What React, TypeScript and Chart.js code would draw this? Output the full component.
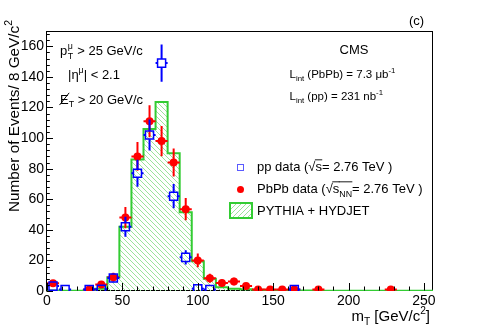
import { useEffect, useRef } from 'react';
import { Chart, registerables } from 'chart.js';
Chart.register(...registerables);

// ---- data ----
const binEdges = [0, 8, 16, 24, 32, 40, 48, 56, 64, 72, 80, 88, 96, 104, 112, 120, 128, 136, 144, 152, 160, 168, 176, 184, 192, 200, 208, 216, 224, 232, 240, 248, 256];
const mcValues = [0.4, 0.2, 0.2, 0.3, 1.5, 9, 42, 86, 106, 123.5, 90, 51.5, 19.5, 8, 2.5, 1.5, 1.2, 0.8, 0.5, 0.4, 0.3, 0.3, 0.2, 0.2, 0.2, 0.1, 0.1, 0.1, 0.1, 0.1, 0.1, 0.1];

const ppX = [4, 12, 28, 36, 44, 52, 60, 68, 76, 84, 92, 100, 108, 164];
const ppY = [3.2, 1, 1, 1.2, 8.5, 42, 77, 102, 149, 62, 22, 1.5, 1, 1];
const ppErr = [1.8, 1, 1, 1.1, 2.9, 6.5, 8.8, 10.1, 12.2, 7.9, 4.7, 1.2, 1, 1];

const pbX = [4, 28, 36, 44, 52, 60, 68, 76, 84, 92, 100, 108, 116, 124, 132, 140, 148, 156, 164, 180, 228];
const pbY = [5, 1, 4.2, 9, 48, 88, 111, 98, 84, 53.5, 20, 8.3, 5.2, 6.2, 3.2, 1, 1, 1, 1, 1, 1];
const pbErr = [2.2, 1, 2, 3, 6.9, 9.4, 10.5, 9.9, 9.2, 7.3, 4.5, 2.9, 2.3, 2.5, 1.8, 1, 1, 1, 1, 1, 1];

const binHalfWidth = 4;
const xTicks = [0, 50, 100, 150, 200, 250];
const yTicks = [0, 20, 40, 60, 80, 100, 120, 140, 160];

const FONT = '"Liberation Sans", Arial, Helvetica, sans-serif';
const GREEN = '#33cc33';
const HATCH = '#9be39b';

type Seg = { t?: string; k?: 'sub' | 'sup'; over?: boolean; slash?: boolean; stack?: [string, string] };

function drawRich(ctx: CanvasRenderingContext2D, segs: Seg[], x: number, y: number, size: number, align: 'left' | 'right' | 'center' = 'left') {
  const small = size * 0.68;
  const widths = segs.map((s) => {
    if (s.stack) {
      ctx.font = `${small}px ${FONT}`;
      return Math.max(ctx.measureText(s.stack[0]).width, ctx.measureText(s.stack[1]).width) + 1;
    }
    ctx.font = `${s.k ? small : size}px ${FONT}`;
    return ctx.measureText(s.t || '').width;
  });
  const total = widths.reduce((a, b) => a + b, 0);
  let cx = align === 'right' ? x - total : align === 'center' ? x - total / 2 : x;
  ctx.textBaseline = 'alphabetic';
  ctx.textAlign = 'left';
  segs.forEach((s, i) => {
    if (s.stack) {
      ctx.font = `${small}px ${FONT}`;
      ctx.fillText(s.stack[0], cx + 0.5, y + size * 0.28);
      ctx.fillText(s.stack[1], cx + 0.5, y - size * 0.5);
    } else {
      const sz = s.k ? small : size;
      ctx.font = `${sz}px ${FONT}`;
      const dy = s.k === 'sub' ? size * 0.28 : s.k === 'sup' ? -size * 0.42 : 0;
      ctx.fillText(s.t || '', cx, y + dy);
      if (s.over) {
        ctx.save();
        ctx.lineWidth = 0.9;
        ctx.strokeStyle = ctx.fillStyle as string;
        ctx.beginPath();
        const oy = y - size * 0.86;
        ctx.moveTo(cx - 0.5, oy);
        ctx.lineTo(cx + widths[i] + 0.3, oy);
        ctx.stroke();
        ctx.restore();
      }
      if (s.slash) {
        ctx.save();
        ctx.lineWidth = 1;
        ctx.strokeStyle = ctx.fillStyle as string;
        ctx.beginPath();
        ctx.moveTo(cx - 0.5, y + size * 0.12);
        ctx.lineTo(cx + widths[i] + 0.5, y - size * 0.82);
        ctx.stroke();
        ctx.restore();
      }
    }
    cx += widths[i];
  });
}

function makeHatch(dir: 'back' | 'fwd') {
  const s = 5;
  const c = document.createElement('canvas');
  c.width = s;
  c.height = s;
  const g = c.getContext('2d')!;
  g.strokeStyle = HATCH;
  g.lineWidth = 1;
  g.beginPath();
  if (dir === 'back') {
    g.moveTo(-1, -1); g.lineTo(s + 1, s + 1);
    g.moveTo(-1, s - 1); g.lineTo(1, s + 1);
    g.moveTo(s - 1, -1); g.lineTo(s + 1, 1);
  } else {
    g.moveTo(-1, s + 1); g.lineTo(s + 1, -1);
    g.moveTo(-1, 1); g.lineTo(1, -1);
    g.moveTo(s - 1, s + 1); g.lineTo(s + 1, s - 1);
  }
  g.stroke();
  return g.createPattern(c, 'repeat')!;
}

export default function App() {
  const ref = useRef<HTMLCanvasElement>(null);
  useEffect(() => {
    const canvas = ref.current!;
    const histPattern = makeHatch('back');
    const legPattern = makeHatch('fwd');

    const overlay = {
      id: 'overlay',
      beforeDatasetsDraw(chart: any) {
        const { ctx, chartArea: a } = chart;
        ctx.save();
        ctx.strokeStyle = '#000';
        ctx.lineWidth = 1;
        const l = Math.round(a.left) - 0.5, t = Math.round(a.top) + 0.5, r = Math.round(a.right) - 0.5, b = Math.round(a.bottom) - 0.5;
        ctx.strokeRect(l, t, r - l, b - t);
        ctx.restore();
      },
      beforeDatasetDraw(chart: any, args: any) {
        const { ctx, chartArea: a } = chart;
        const xs = chart.scales.x, ys = chart.scales.y;
        ctx.save();
        ctx.beginPath();
        ctx.rect(a.left, a.top, a.right - a.left, a.bottom - a.top);
        ctx.clip();
        if (args.index === 1) {
          ctx.strokeStyle = '#ff0000';
          ctx.lineWidth = 2;
          pbX.forEach((x, i) => {
            const px = xs.getPixelForValue(x), py = ys.getPixelForValue(pbY[i]);
            ctx.beginPath();
            ctx.moveTo(px, ys.getPixelForValue(pbY[i] + pbErr[i]));
            ctx.lineTo(px, ys.getPixelForValue(Math.max(0, pbY[i] - pbErr[i])));
            ctx.moveTo(xs.getPixelForValue(x - binHalfWidth), py);
            ctx.lineTo(xs.getPixelForValue(x + binHalfWidth), py);
            ctx.stroke();
          });
        }
        if (args.index === 2) {
          ctx.strokeStyle = '#0000ff';
          ctx.lineWidth = 2;
          const h = 4.2;
          ppX.forEach((x, i) => {
            const px = xs.getPixelForValue(x), py = ys.getPixelForValue(ppY[i]);
            const top = ys.getPixelForValue(ppY[i] + ppErr[i]);
            const bot = ys.getPixelForValue(Math.max(0, ppY[i] - ppErr[i]));
            ctx.beginPath();
            if (top < py - h) { ctx.moveTo(px, top); ctx.lineTo(px, py - h); }
            if (bot > py + h) { ctx.moveTo(px, py + h); ctx.lineTo(px, bot); }
            ctx.moveTo(xs.getPixelForValue(x - binHalfWidth), py);
            ctx.lineTo(px - h, py);
            ctx.moveTo(px + h, py);
            ctx.lineTo(xs.getPixelForValue(x + binHalfWidth), py);
            ctx.stroke();
          });
        }
        ctx.restore();
      },
      afterDatasetsDraw(chart: any) {
        const { ctx, chartArea: a } = chart;
        const xs = chart.scales.x, ys = chart.scales.y;
        ctx.save();
        ctx.strokeStyle = '#000';
        ctx.lineWidth = 1;
        ctx.beginPath();
        const l = Math.round(a.left) - 0.5, b = Math.round(a.bottom) - 0.5;
        for (let v = 0; v <= 168; v += 4) {
          const py = Math.round(ys.getPixelForValue(v)) + 0.5;
          const len = v % 20 === 0 ? 6.5 : 3.3;
          ctx.moveTo(l, py); ctx.lineTo(l + len, py);
        }
        for (let v = 0; v <= 250; v += 10) {
          const px = Math.round(xs.getPixelForValue(v)) + 0.5;
          const len = v % 50 === 0 ? 7.5 : 4;
          ctx.moveTo(px, b); ctx.lineTo(px, b - len);
        }
        ctx.stroke();
        ctx.restore();
      },
      afterDraw(chart: any) {
        const ctx: CanvasRenderingContext2D = chart.ctx;
        ctx.save();
        ctx.fillStyle = '#000';
        // axis titles
        drawRich(ctx, [{ t: 'm' }, { t: 'T', k: 'sub' }, { t: ' [GeV/c' }, { t: '2', k: 'sup' }, { t: ']' }], 430, 320.5, 15, 'right');
        ctx.save();
        ctx.translate(18.8, 20);
        ctx.rotate(-Math.PI / 2);
        drawRich(ctx, [{ t: 'Number of Events/ 8 GeV/c' }, { t: '2', k: 'sup' }], 0, 0, 15.3, 'right');
        ctx.restore();
        // labels
        drawRich(ctx, [{ t: '(c)' }], 409, 25, 13);
        drawRich(ctx, [{ t: 'CMS' }], 354, 53.5, 13, 'center');
        drawRich(ctx, [{ t: 'L' }, { t: 'int', k: 'sub' }, { t: ' (PbPb) = 7.3 \u03bcb' }, { t: '-1', k: 'sup' }], 289.5, 77.5, 11.5);
        drawRich(ctx, [{ t: 'L' }, { t: 'int', k: 'sub' }, { t: ' (pp) = 231 nb' }, { t: '-1', k: 'sup' }], 289.5, 99.5, 11.5);
        drawRich(ctx, [{ t: 'p' }, { stack: ['T', '\u03bc'] }, { t: ' > 25 GeV/c' }], 60, 55, 13);
        drawRich(ctx, [{ t: '|\u03b7' }, { t: '\u03bc', k: 'sup' }, { t: '| < 2.1' }], 68, 78.5, 13);
        drawRich(ctx, [{ t: 'E', slash: true }, { t: 'T', k: 'sub' }, { t: ' > 20 GeV/c' }], 60, 103.5, 13);
        // legend
        ctx.strokeStyle = '#5a5aff';
        ctx.lineWidth = 1;
        ctx.strokeRect(237.5, 164.5, 6, 6);
        ctx.fillStyle = '#ff0000';
        ctx.beginPath();
        ctx.arc(240.5, 189.5, 3.5, 0, Math.PI * 2);
        ctx.fill();
        ctx.fillStyle = legPattern;
        ctx.fillRect(230, 203, 22, 15);
        ctx.strokeStyle = GREEN;
        ctx.lineWidth = 2;
        ctx.strokeRect(230, 203, 22, 15);
        ctx.fillStyle = '#000';
        drawRich(ctx, [{ t: 'pp data (\u221a' }, { t: 's', over: true }, { t: '= 2.76 TeV )' }], 257, 171, 13);
        drawRich(ctx, [{ t: 'PbPb data (\u221a' }, { t: 's', over: true }, { t: 'NN', k: 'sub', over: true }, { t: '= 2.76 TeV )' }], 257, 193, 13);
        drawRich(ctx, [{ t: 'PYTHIA + HYDJET' }], 257, 215, 13);
        ctx.restore();
      },
    };

    const histData = binEdges.map((x, i) => ({ x, y: mcValues[Math.min(i, mcValues.length - 1)] }));

    const chart = new Chart(canvas, {
      type: 'scatter',
      data: {
        datasets: [
          {
            type: 'line',
            label: 'PYTHIA + HYDJET',
            data: histData,
            stepped: 'before',
            fill: 'origin',
            backgroundColor: histPattern,
            borderColor: GREEN,
            borderWidth: 2,
            pointRadius: 0,
            order: 3,
          } as any,
          {
            label: 'PbPb data',
            data: pbX.map((x, i) => ({ x, y: pbY[i] })),
            pointStyle: 'circle',
            pointRadius: 4,
            backgroundColor: '#ff0000',
            borderColor: '#ff0000',
            borderWidth: 0,
            order: 2,
          },
          {
            label: 'pp data',
            data: ppX.map((x, i) => ({ x, y: ppY[i] })),
            pointStyle: 'rect',
            pointRadius: 5.7,
            backgroundColor: 'rgba(0,0,0,0)',
            borderColor: '#0000ff',
            borderWidth: 1.5,
            order: 1,
          },
        ],
      },
      options: {
        animation: false,
        responsive: false,
        maintainAspectRatio: false,
        events: [],
        layout: { padding: { left: 0, right: 49, top: 31, bottom: 0 } },
        plugins: { legend: { display: false }, tooltip: { enabled: false } },
        scales: {
          x: {
            type: 'linear',
            min: 0,
            max: 256,
            grid: { display: false, drawTicks: false },
            border: { display: false },
            ticks: { color: '#000', font: { family: FONT, size: 14 }, padding: 2, maxRotation: 0, autoSkip: false },
            afterBuildTicks: (s: any) => { s.ticks = xTicks.map((v) => ({ value: v })); },
            afterFit: (s: any) => { s.height = 35; },
          },
          y: {
            type: 'linear',
            min: 0,
            max: 170,
            grid: { display: false, drawTicks: false },
            border: { display: false },
            ticks: { color: '#000', font: { family: FONT, size: 14 }, padding: 3, autoSkip: false },
            afterBuildTicks: (s: any) => { s.ticks = yTicks.map((v) => ({ value: v })); },
            afterFit: (s: any) => { s.width = 47; },
          },
        },
      },
      plugins: [overlay],
    });
    return () => chart.destroy();
  }, []);

  return (
    <div style={{ position: 'fixed', left: 0, top: 0, width: 482, height: 326, background: '#fff' }}>
      <canvas ref={ref} width={482} height={326} style={{ width: 482, height: 326, display: 'block' }} />
    </div>
  );
}
